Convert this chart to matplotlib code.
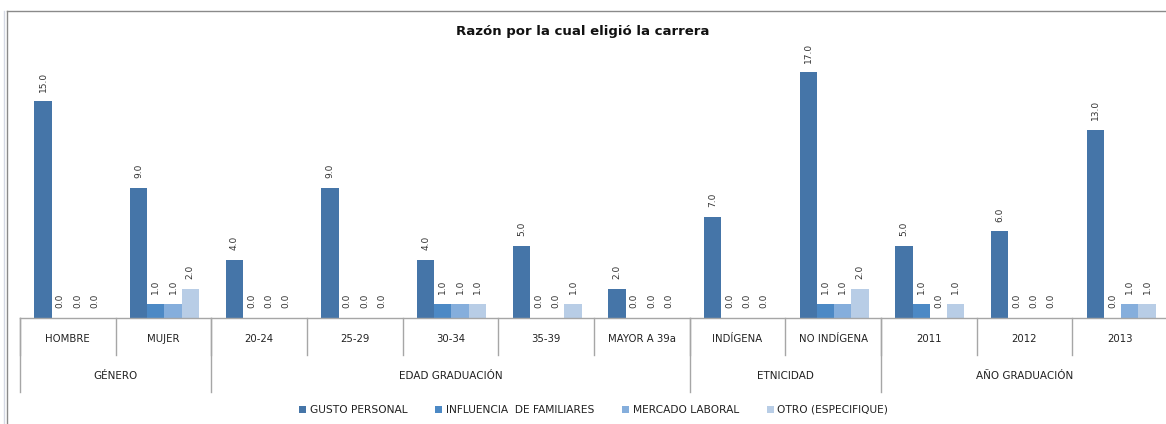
import matplotlib
matplotlib.use("Agg")
import matplotlib.pyplot as plt
from matplotlib.lines import Line2D
from matplotlib.patches import Patch
from matplotlib.transforms import blended_transform_factory
import numpy as np

categories = ["HOMBRE", "MUJER", "20-24", "25-29", "30-34", "35-39", "MAYOR A 39a",
              "INDÍGENA", "NO INDÍGENA", "2011", "2012", "2013"]
groups = ["GÉNERO", "EDAD GRADUACIÓN", "ETNICIDAD", "AÑO GRADUACIÓN"]
group_sizes = [2, 5, 2, 3]
series_names = ["GUSTO PERSONAL", "INFLUENCIA  DE FAMILIARES", "MERCADO LABORAL", "OTRO (ESPECIFIQUE)"]
gusto = [15, 9, 4, 9, 4, 5, 2, 7, 17, 5, 6, 13]
influencia = [0, 1, 0, 0, 1, 0, 0, 0, 1, 1, 0, 0]
mercado = [0, 1, 0, 0, 1, 0, 0, 0, 1, 0, 0, 1]
otro = [0, 2, 0, 0, 1, 1, 0, 0, 2, 1, 0, 1]
title = "Razón por la cual eligió la carrera"

series = [gusto, influencia, mercado, otro]
colors = ["#4575A8", "#4C89C5", "#85AEDC", "#B8CDE6"]

W, H = 1166, 424
fig = plt.figure(figsize=(W / 100, H / 100), dpi=100)

def fx(px):
    return px / W

def fy(py):
    return (H - py) / H

# outer chart frame
fig.add_artist(Line2D([fx(4), fx(4)], [0, fy(11)], color="#D5D9E4", lw=1))
fig.add_artist(Line2D([fx(6.5), fx(6.5)], [0, fy(11)], color="#8A8A8A", lw=1))
fig.add_artist(Line2D([fx(6.5), 1], [fy(11), fy(11)], color="#8A8A8A", lw=1))

ax_left, ax_right = 20, 1168
ax_bottom, ax_top = 318, 58
ax = fig.add_axes([fx(ax_left), fy(ax_bottom), (ax_right - ax_left) / W, (ax_bottom - ax_top) / H])
ax.set_xlim(-0.5, len(categories) - 0.5)
ax.set_ylim(0, 18)
for s in ["top", "right", "left"]:
    ax.spines[s].set_visible(False)
ax.spines["bottom"].set_color("#A6A6A6")
ax.spines["bottom"].set_linewidth(1)
ax.set_xticks([])
ax.set_yticks([])

x = np.arange(len(categories))
bw = 0.18
for j, (vals, c) in enumerate(zip(series, colors)):
    bars = ax.bar(x + (j - 1.5) * bw + 0.01, vals, width=bw, color=c, label=series_names[j])
    ax.bar_label(bars, labels=[f"{v:.1f}" for v in vals], rotation=90, padding=7,
                 fontsize=6.5, color="#333333")

fig.text(0.5, fy(31), title, ha="center", va="center", fontsize=9.5, fontweight="bold",
         color="#111111")

trans = blended_transform_factory(ax.transData, fig.transFigure)
# inner dividers and labels
for i in range(len(categories) + 1):
    xb = i - 0.5
    fig.add_artist(Line2D([xb, xb], [fy(318), fy(355)], transform=trans, color="#A6A6A6", lw=1))
for i, cat in enumerate(categories):
    fig.text(i, fy(339), cat, transform=trans, ha="center", va="center", fontsize=7.3,
             color="#222222")
# group dividers and labels
start = 0
bounds = [0]
for g in group_sizes:
    start += g
    bounds.append(start)
for b in bounds:
    xb = b - 0.5
    fig.add_artist(Line2D([xb, xb], [fy(318), fy(392)], transform=trans, color="#A6A6A6", lw=1))
for gname, a, b in zip(groups, bounds[:-1], bounds[1:]):
    fig.text((a + b - 1) / 2, fy(376), gname, transform=trans, ha="center", va="center",
             fontsize=7.5, color="#222222")

handles = [Patch(facecolor=c, edgecolor="none") for c in colors]
fig.legend(handles, series_names, loc="center", bbox_to_anchor=(0.509, fy(410)), ncol=4,
           frameon=False, fontsize=7.7, handlelength=0.7, handleheight=0.7,
           handletextpad=0.3, columnspacing=2.6, labelcolor="#222222")

fig.savefig("out.png", dpi=100)
